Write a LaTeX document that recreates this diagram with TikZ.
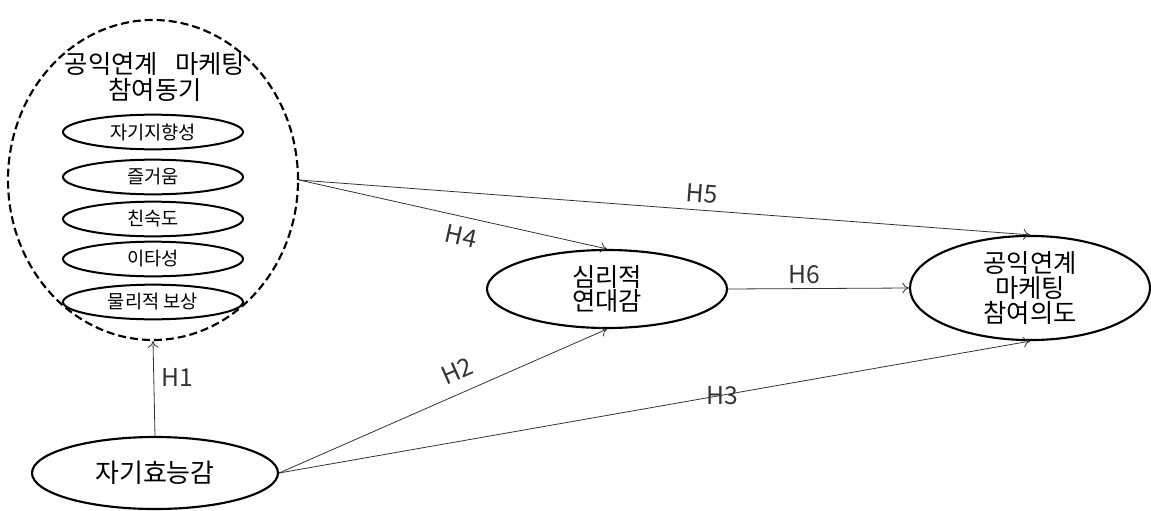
\documentclass[tikz,border=0pt]{standalone}
\usepackage{fontspec}
\setmainfont{Noto Sans CJK KR}
\usetikzlibrary{shapes,arrows,arrows.meta,positioning,calc}

\begin{document}
\begin{tikzpicture}[x=0.75pt, y=-0.75pt,
    construct/.style={draw, ellipse, line width=1.6pt, inner sep=0pt, align=center},
    item/.style={draw, ellipse, line width=1.5pt, inner sep=0pt, minimum width=135pt, minimum height=26pt, font=\fontsize{14}{16}\selectfont},
    hyp/.style={-{To[length=5pt, width=8pt]}, line width=0.6pt, black!80},
    hlabel/.style={font=\fontsize{18.5}{20}\selectfont}]
    \useasboundingbox (0,0) rectangle (1151,510);

    % Motives (dashed group)
    \node[construct, dashed, dash pattern=on 6pt off 3pt, minimum width=217.5pt, minimum height=240pt] (motive) at (153,180) {};
    \node[font=\fontsize{19}{19}\selectfont, align=center] (motivetitle) at (155,77) {공익연계\;\, 마케팅\\참여동기};
    \foreach \y/\txt [count=\i] in {132/자기지향성, 177/즐거움, 219/친숙도, 259/이타성, 302/물리적 보상} {
        \node[item] (m\i) at (153,\y) {\txt};
    }

    % Self-efficacy
    \node[construct, minimum width=184.5pt, minimum height=54pt, font=\fontsize{19.5}{22}\selectfont] (self) at (155,473) {자기효능감};

    % Psychological bond
    \node[construct, minimum width=180pt, minimum height=58.5pt, font=\fontsize{19}{21}\selectfont] (bond) at (607,289) {심리적\\[-3pt]연대감};

    % Participation intention
    \node[construct, minimum width=180pt, minimum height=60pt, font=\fontsize{19}{19}\selectfont] (intent) at (1030,288) {공익연계\\마케팅\\참여의도};

    % Hypotheses
    \draw[hyp] (self.north) -- node[hlabel, pos=0.62, right=2pt] {H1} (motive.south);
    \draw[hyp] (self.east) -- node[hlabel, pos=0.57, sloped, above=6pt] {H2} (bond.south);
    \draw[hyp] (self.east) -- node[hlabel, pos=0.59] {H3} (intent.south);
    \draw[hyp] (motive.east) -- node[hlabel, pos=0.54, sloped, below=4pt] {H4} (bond.north);
    \draw[hyp] (motive.east) -- node[hlabel, pos=0.55, sloped, above=2pt] {H5} (intent.north);
    \draw[hyp] (bond.east) -- node[hlabel, pos=0.42, above] {H6} (intent.west);
\end{tikzpicture}
\end{document}
